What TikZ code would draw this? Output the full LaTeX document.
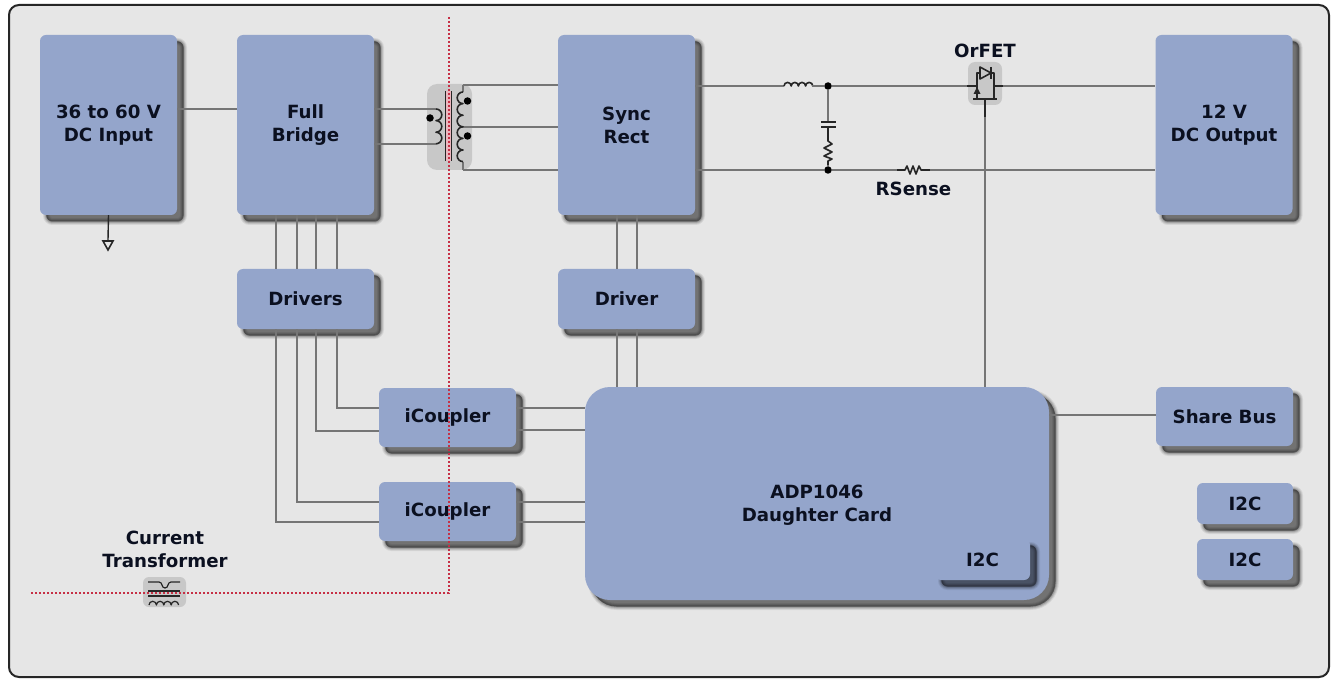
\documentclass[tikz,border=0pt]{standalone}
\usepackage{fontspec}
\setmainfont{DejaVu Sans}
\usetikzlibrary{shadows,arrows.meta}
\definecolor{boxblue}{HTML}{94A5CB}
\definecolor{bgray}{HTML}{E6E6E6}
\definecolor{wire}{HTML}{757575}
\definecolor{inkc}{HTML}{0B1020}
\definecolor{iconbg}{HTML}{C8C8C8}
\definecolor{isol}{HTML}{C62F45}
\tikzset{
  softshadow/.style={
    general shadow={fill=#1,draw=#1,line width=7pt,opacity=.07,shadow xshift=6.5pt,shadow yshift=-6.5pt},
    general shadow={fill=#1,draw=#1,line width=5pt,opacity=.10,shadow xshift=6.5pt,shadow yshift=-6.5pt},
    general shadow={fill=#1,draw=#1,line width=3pt,opacity=.14,shadow xshift=6.5pt,shadow yshift=-6.5pt},
    general shadow={fill=#1,draw=#1,line width=1pt,opacity=.16,shadow xshift=6.5pt,shadow yshift=-6.5pt},
    general shadow={fill=#1,opacity=.16,shadow xshift=6pt,shadow yshift=-6pt}},
  box/.style={softshadow=black,fill=boxblue,rounded corners=6pt,inner sep=0pt,align=center,text=inkc,
    font=\bfseries\fontsize{18.2}{23}\selectfont},
  label/.style={inner sep=0pt,align=center,text=inkc,font=\bfseries\fontsize{18.2}{23}\selectfont},
  wireline/.style={draw=wire,line width=1.5pt},
  isolation/.style={draw=isol,line width=1.8pt,dash pattern=on 1.8pt off 2.2pt},
  symbol/.style={draw=black!85,line width=1.6pt,line join=round},
  dotmark/.style={circle,fill=black,inner sep=0pt,minimum size=7.5pt},
}
\begin{document}
\begin{tikzpicture}[x=1pt,y=-1pt]
\useasboundingbox (0,0) rectangle (1331,679);
\fill[white] (0,0) rectangle (1331,679);
\draw[fill=bgray,draw=black!85,line width=2pt,rounded corners=10pt] (9,5) rectangle (1329,677);

\coordinate (gnd) at (108,240);
\coordinate (tp1) at (436,109);
\coordinate (tp2) at (436,144);
\coordinate (ts1) at (463,85);
\coordinate (ts2) at (460,127);
\coordinate (ts3) at (463,170);

% boxes
\node[box,minimum width=137,minimum height=180] (input) at (108.5,125) {36 to 60 V\\DC Input};
\node[box,minimum width=137,minimum height=180] (bridge) at (305.5,125) {Full\\Bridge};
\node[box,minimum width=137,minimum height=180] (sync) at (626.5,125) {Sync\\Rect};
\node[box,minimum width=137,minimum height=180] (output) at (1224,125) {12 V\\DC Output};
\node[box,minimum width=137,minimum height=60] (drivers) at (305.5,299) {Drivers};
\node[box,minimum width=137,minimum height=60] (driver) at (626.5,299) {Driver};
\node[box,minimum width=137,minimum height=59] (ic1) at (447.5,417.5) {iCoupler};
\node[box,minimum width=137,minimum height=59] (ic2) at (447.5,511.5) {iCoupler};
\node[box,rounded corners=25pt,minimum width=464,minimum height=213] (adp) at (817,493.5) {};
\node[label] (adptext) at (817,505.5) {ADP1046\\Daughter Card};
\node[box,minimum width=137,minimum height=59] (share) at (1224.5,416.5) {Share Bus};
\node[box,minimum width=95,minimum height=41] (i2ca) at (982.5,559.5) {I2C};
\node[box,minimum width=96,minimum height=41] (i2cb) at (1245,503.5) {I2C};
\node[box,minimum width=96,minimum height=41] (i2cc) at (1245,559.5) {I2C};

% simple connectors
\draw[wireline] (input.east |- 0,109) -- (bridge.west |- 0,109);
\draw[wireline] (adp.east |- 0,415) -- (share.west |- 0,415);
\foreach \px in {276,297,316,337}
  \draw[wireline] (bridge.south -| \px,0) -- (drivers.north -| \px,0);
\foreach \px in {617,637} {
  \draw[wireline] (sync.south -| \px,0) -- (driver.north -| \px,0);
  \draw[wireline] (driver.south -| \px,0) -- (adp.north -| \px,0);
}
\draw[wireline] (drivers.south -| 337,0) |- (ic1.west |- 0,408);
\draw[wireline] (drivers.south -| 316,0) |- (ic1.west |- 0,431);
\draw[wireline] (drivers.south -| 297,0) |- (ic2.west |- 0,502);
\draw[wireline] (drivers.south -| 276,0) |- (ic2.west |- 0,522);
\draw[wireline] (ic1.east |- 0,408) -- (adp.west |- 0,408);
\draw[wireline] (ic1.east |- 0,430) -- (adp.west |- 0,430);
\draw[wireline] (ic2.east |- 0,502) -- (adp.west |- 0,502);
\draw[wireline] (ic2.east |- 0,522) -- (adp.west |- 0,522);

% ground
\draw[draw=black!85,line width=1.4pt] (input.south) -- (gnd);
\draw[draw=black!85,line width=1.6pt,fill=bgray,line join=miter] (103,241) -- (113,241) -- (108,250) -- cycle;

% main transformer
\fill[iconbg,rounded corners=10pt] (427,84) rectangle (472,170);
\draw[wireline] (bridge.east |- tp1) -- (tp1);
\draw[wireline] (bridge.east |- tp2) -- (tp2);
\draw[wireline] (ts1) -- (sync.west |- ts1);
\draw[wireline] (ts2) -- (sync.west |- ts2);
\draw[wireline] (ts3) -- (sync.west |- ts3);
\draw[wireline] (463,92) -- (ts1);
\draw[wireline] (463,162) -- (ts3);
\fill[white!65!isol] (446,91) rectangle (451,161);
\draw[symbol,line width=1.8pt] (445.5,91) -- (445.5,161);
\draw[symbol,line width=1.8pt] (451.5,91) -- (451.5,161);
\draw[symbol] (tp1) \foreach \k in {1,2,3} { arc[start angle=-90,end angle=90,radius=5.8] };
\draw[symbol] (463,92) \foreach \k in {1,...,6} { arc[start angle=-90,end angle=-270,radius=5.8] };
\node[dotmark] (pd) at (430,118) {};
\node[dotmark] (sd1) at (467.5,101) {};
\node[dotmark] (sd2) at (467.5,136) {};

% isolation line
\coordinate (isotop) at (449,17);
\coordinate (isocorner) at (449,593);
\coordinate (isoleft) at (30,593);

% output filter
\node[dotmark] (j1) at (828,86) {};
\node[dotmark] (j2) at (828,170) {};
\coordinate (orin) at (968,86);
\coordinate (orout) at (1002,86);
\draw[wireline] (sync.east |- j1) -- (784,86);
\draw[symbol] (784,86) \foreach \k in {1,2,3,4} { arc[start angle=180,end angle=360,radius=3.6] };
\draw[wireline] (812,86) -- (j1) -- (orin);
\draw[wireline] (orout) -- (output.west |- orout);
\draw[wireline] (j1) -- (828,122);
\draw[symbol] (821,122) -- (836,122);
\draw[symbol] (821,127) -- (836,127);
\draw[symbol] (828,127) -- (828,141) -- (832,144) -- (824,148) -- (832,152) -- (824,156) -- (832,159) -- (828,161) -- (828,165);
\draw[wireline] (828,165) -- (j2);
\draw[wireline] (sync.east |- j2) -- (j2) -- (897,170);
\draw[symbol] (897,170) -- (905,170) -- (907,166) -- (910,174) -- (913,166) -- (916,174) -- (919,166) -- (921,170) -- (930,170);
\draw[wireline] (930,170) -- (output.west |- j2);
\node[label] (rsense) at (913.5,189) {RSense};

% OrFET
\fill[iconbg,rounded corners=7pt] (968,62) rectangle (1002,105);
\node[label] (orfet) at (985,51) {OrFET};
\draw[symbol] (967,86) -- (977,86) -- (977,73) -- (980,73);
\draw[symbol] (1003,86) -- (994,86) -- (994,73) -- (991,73);
\draw[symbol] (980,67) -- (980,79) -- (991,73) -- cycle;
\draw[symbol] (991,67) -- (991,79);
\draw[symbol] (977,86) -- (977,98);
\draw[symbol] (994,86) -- (994,98);
\draw[symbol] (973,99) -- (997,99);
\fill[black!85] (977,87) -- (973.5,94) -- (980.5,94) -- cycle;
\draw[symbol] (985,99) -- (985,117);
\draw[wireline] (985,117) -- (adp.north -| 985,0);

% isolation line on top
\draw[isolation] (isotop) -- (isocorner) -- (isoleft);

% current transformer
\node[label] (cttext) at (165,549) {Current\\Transformer};
\fill[iconbg,rounded corners=6pt] (143,577) rectangle (186,607);
\draw[symbol,line width=1.2pt] (148,582) -- (159,582) .. controls (163,582) and (161,588) .. (165,588) .. controls (169,588) and (167,582) .. (171,582) -- (180,582);
\draw[symbol,line width=1.2pt] (148,591) -- (180,591);
\draw[symbol,line width=1.2pt] (148,596) -- (180,596);
\draw[symbol,line width=1.2pt] (149,605) \foreach \k in {1,2,3,4} { arc[start angle=180,end angle=360,radius=3.7] };
\draw[isolation] (143,593) -- (186,593);
\end{tikzpicture}
\end{document}
